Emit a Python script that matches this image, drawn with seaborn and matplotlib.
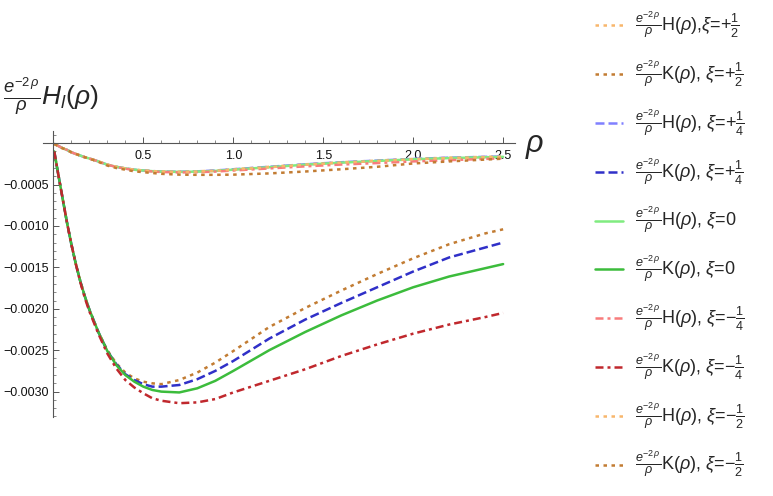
import matplotlib
matplotlib.use("Agg")
import matplotlib.pyplot as plt
import matplotlib.ticker as mticker
import numpy as np
import seaborn as sns

# ---------------- data (values in units of 1e-4) ----------------
rho = [0.005, 0.025, 0.05, 0.075, 0.1, 0.125, 0.15, 0.175, 0.2, 0.25, 0.3, 0.35,
       0.4, 0.45, 0.5, 0.55, 0.6, 0.7, 0.8, 0.9, 1.0, 1.2, 1.4, 1.6, 1.8, 2.0,
       2.2, 2.4, 2.5]

H_p12 = [-0.1, -0.3, -0.6, -0.8, -1.1, -1.3, -1.5, -1.7, -1.85, -2.2, -2.6, -2.85,
         -3.05, -3.2, -3.3, -3.37, -3.42, -3.45, -3.4, -3.3, -3.15, -2.85, -2.55,
         -2.3, -2.1, -1.9, -1.75, -1.65, -1.6]
K_p12 = [-1.0, -3.5, -6.5, -9.5, -12.2, -14.6, -16.7, -18.5, -20.1, -22.8, -25.0, -26.6,
         -27.7, -28.4, -28.8, -29.0, -29.1, -28.6, -27.7, -26.5, -25.1, -22.2, -19.9,
         -17.8, -15.8, -13.9, -12.2, -10.9, -10.4]
H_p14 = [-0.1, -0.3, -0.6, -0.8, -1.1, -1.3, -1.5, -1.7, -1.85, -2.2, -2.6, -2.85,
         -3.05, -3.2, -3.3, -3.37, -3.42, -3.45, -3.4, -3.3, -3.15, -2.85, -2.55,
         -2.3, -2.1, -1.9, -1.75, -1.65, -1.6]
K_p14 = [-1.0, -3.5, -6.5, -9.5, -12.2, -14.6, -16.7, -18.5, -20.1, -22.8, -25.1, -26.7,
         -27.9, -28.6, -29.1, -29.4, -29.4, -29.2, -28.5, -27.5, -26.3, -23.6, -21.3,
         -19.3, -17.4, -15.5, -13.8, -12.6, -12.0]
H_0 = [-0.1, -0.3, -0.6, -0.8, -1.1, -1.3, -1.5, -1.7, -1.85, -2.2, -2.6, -2.85,
       -3.05, -3.2, -3.3, -3.38, -3.43, -3.47, -3.43, -3.35, -3.2, -2.9, -2.6,
       -2.35, -2.15, -1.95, -1.8, -1.7, -1.65]
K_0 = [-1.0, -3.5, -6.5, -9.5, -12.2, -14.6, -16.7, -18.5, -20.1, -22.8, -25.1, -26.8,
       -28.0, -28.8, -29.4, -29.8, -30.0, -30.1, -29.6, -28.7, -27.5, -25.0, -22.8,
       -20.8, -19.0, -17.4, -16.1, -15.1, -14.6]
H_m14 = [-0.1, -0.3, -0.6, -0.8, -1.1, -1.3, -1.5, -1.7, -1.85, -2.2, -2.6, -2.87,
         -3.08, -3.23, -3.33, -3.42, -3.48, -3.53, -3.5, -3.43, -3.3, -3.05, -2.8,
         -2.58, -2.4, -2.2, -2.05, -1.9, -1.82]
K_m14 = [-1.0, -3.5, -6.5, -9.5, -12.2, -14.6, -16.8, -18.7, -20.3, -23.0, -25.4, -27.2,
         -28.6, -29.5, -30.2, -30.8, -31.1, -31.4, -31.3, -30.9, -30.1, -28.7, -27.3,
         -25.7, -24.3, -23.0, -21.9, -21.0, -20.5]
H_m12 = [-0.1, -0.3, -0.6, -0.8, -1.1, -1.3, -1.5, -1.7, -1.85, -2.2, -2.6, -2.85,
         -3.05, -3.2, -3.3, -3.38, -3.43, -3.47, -3.43, -3.35, -3.2, -2.9, -2.6,
         -2.35, -2.15, -1.95, -1.8, -1.7, -1.65]
K_m12 = [-0.1, -0.3, -0.6, -0.8, -1.1, -1.3, -1.5, -1.7, -1.85, -2.25, -2.7, -3.0,
         -3.2, -3.4, -3.5, -3.6, -3.7, -3.8, -3.82, -3.82, -3.8, -3.65, -3.42,
         -3.15, -2.85, -2.45, -2.2, -1.98, -1.87]

labels = [
    r'$\frac{e^{-2\,\rho}}{\rho}$H($\rho$),$\xi$=+$\frac{1}{2}$',
    r'$\frac{e^{-2\,\rho}}{\rho}$K($\rho$), $\xi$=+$\frac{1}{2}$',
    r'$\frac{e^{-2\,\rho}}{\rho}$H($\rho$), $\xi$=+$\frac{1}{4}$',
    r'$\frac{e^{-2\,\rho}}{\rho}$K($\rho$), $\xi$=+$\frac{1}{4}$',
    r'$\frac{e^{-2\,\rho}}{\rho}$H($\rho$), $\xi$=0',
    r'$\frac{e^{-2\,\rho}}{\rho}$K($\rho$), $\xi$=0',
    r'$\frac{e^{-2\,\rho}}{\rho}$H($\rho$), $\xi$=−$\frac{1}{4}$',
    r'$\frac{e^{-2\,\rho}}{\rho}$K($\rho$), $\xi$=−$\frac{1}{4}$',
    r'$\frac{e^{-2\,\rho}}{\rho}$H($\rho$), $\xi$=−$\frac{1}{2}$',
    r'$\frac{e^{-2\,\rho}}{\rho}$K($\rho$), $\xi$=−$\frac{1}{2}$',
]
series = [H_p12, K_p12, H_p14, K_p14, H_0, K_0, H_m14, K_m14, H_m12, K_m12]
colors = ['#f8b66c', '#c27c33', '#8080ff', '#3030c8', '#80ec80', '#3cbc3c',
          '#f87c7c', '#c0282d', '#f8b66c', '#c27c33']
dotted = (1.4, 1.8)
dashed = (3.6, 1.6)
dashdot = (3.2, 1.6, 1.2, 1.6)
patterns = [dotted, dotted, dashed, dashed, None, None, dashdot, dashdot, dotted, dotted]

x_major = [0.5, 1.0, 1.5, 2.0, 2.5]
y_major = [-0.0005, -0.0010, -0.0015, -0.0020, -0.0025, -0.0030]

# ---------------- style ----------------
sns.set_theme(style='white')
plt.rcParams['font.family'] = ['Liberation Sans', 'DejaVu Sans']
plt.rcParams['mathtext.fontset'] = 'custom'
plt.rcParams['mathtext.rm'] = 'Liberation Sans'
plt.rcParams['mathtext.it'] = 'Liberation Sans:italic'
plt.rcParams['mathtext.bf'] = 'Liberation Sans:bold'
plt.rcParams['axes.unicode_minus'] = True

fig = plt.figure(figsize=(7.73, 4.96), dpi=100)
ax = fig.add_axes([0.056, 0.1587, 0.610, 0.578])

rho_arr = np.array(rho)
for vals, col, pat, lab in zip(series, colors, patterns, labels):
    sns.lineplot(x=rho_arr, y=np.array(vals) * 1e-4, ax=ax, color=col, lw=1.8,
                 label=lab, legend=False, sort=False, estimator=None)
    line = ax.lines[-1]
    if pat is not None:
        line.set_dashes(pat)

ax.set_xlim(-0.056, 2.565)
ax.set_ylim(-0.00331, 0.000152)
ax.set_xlabel('')
ax.set_ylabel('')

for s in ['top', 'right']:
    ax.spines[s].set_visible(False)
ax.spines['left'].set_position(('data', 0))
ax.spines['bottom'].set_position(('data', 0))
for s in ['left', 'bottom']:
    ax.spines[s].set_color('#555555')
    ax.spines[s].set_linewidth(0.8)

ax.xaxis.set_major_locator(mticker.FixedLocator(x_major))
ax.xaxis.set_minor_locator(mticker.FixedLocator([k / 10 for k in range(1, 26)]))
ax.xaxis.set_major_formatter(mticker.FuncFormatter(lambda v, p: f'{v:.1f}'))
ax.yaxis.set_major_locator(mticker.FixedLocator(y_major))
ax.yaxis.set_minor_locator(mticker.FixedLocator([k * 1e-4 for k in range(-33, 2)]))
ax.yaxis.set_major_formatter(
    mticker.FuncFormatter(lambda v, p: f'{v:.4f}'.replace('-', '\u2212')))

ax.tick_params(axis='both', which='major', direction='in', length=4.5, width=0.7,
               color='#555555', labelsize=9, labelcolor='#111111', pad=3)
ax.tick_params(axis='x', which='major', pad=5)
ax.tick_params(axis='both', which='minor', direction='in', length=2.3, width=0.6,
               color='#777777')
ax.tick_params(axis='x', which='both', bottom=True, top=False)
ax.tick_params(axis='y', which='both', left=True, right=False)
ax.grid(False)

# axis labels
fig.text(535 / 773, 1 - 146 / 496, r'$\rho$', fontsize=22, ha='center', va='center')
fig.text(3 / 773, 1 - 105 / 496, r'$\frac{e^{-2\,\rho}}{\rho}H_l(\rho)$',
         fontsize=19, ha='left', va='baseline')

handles, labs = ax.get_legend_handles_labels()
fig.legend(handles, labs, loc='upper left', bbox_to_anchor=(595 / 773, 1 - 10 / 496),
           bbox_transform=fig.transFigure, frameon=False, fontsize=13,
           handlelength=1.55, handletextpad=0.65, labelspacing=0.98,
           borderpad=0, borderaxespad=0)

fig.savefig('out.png', dpi=100)
